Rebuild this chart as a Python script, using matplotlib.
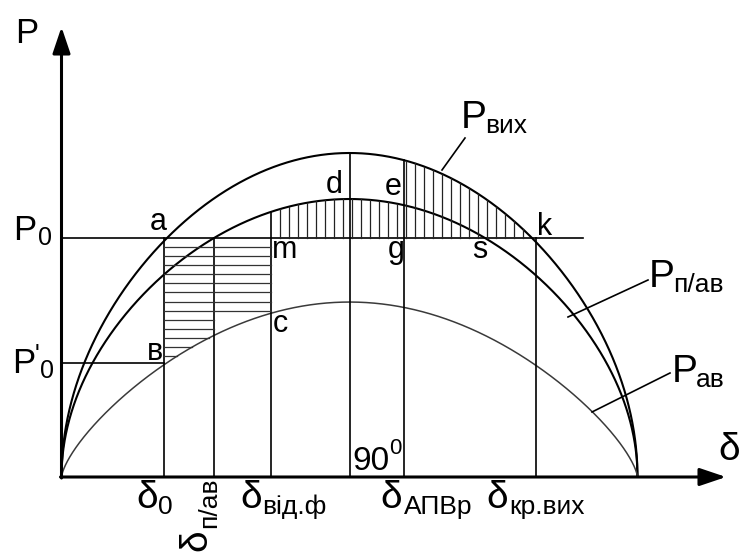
import matplotlib
matplotlib.use('Agg')
import matplotlib.pyplot as plt
import numpy as np

# power-angle characteristics: amplitude (Pвих = 1) and curve shape exponent
curveNames = ['вих', 'п/ав', 'ав']
curveAmp = [1.0, 0.858, 0.54]
curveExp = [0.5, 0.5, 0.7]
curveWidth = [1.5, 1.5, 1.1]
curveColor = ['black', 'black', '#3a3a3a']

# turbine power levels
P0 = 0.738
P0prime = 0.352

# angles on the delta axis, degrees
angleNames = ['0', 'п/ав', 'від.ф', '90', 'АПВр', 'кр.вих']
angles = [32.0, 47.7, 65.5, 90.0, 107.0, 148.3]

plt.rcParams['font.family'] = ['Liberation Sans', 'DejaVu Sans']

W, H = 744, 554
X0, Y0 = 61.5, 477.0
XSCALE, YSCALE = 3.2, 324.0

def px(x, y):
	# pixel position -> data position
	return ((x - X0) / XSCALE, (Y0 - y) / YSCALE)

def curve(i, d):
	return curveAmp[i] * np.sin(np.radians(d)) ** curveExp[i]

def put(ax, s, x, y, size, **kw):
	dx, dy = px(x, y)
	ax.text(dx, dy, s, fontsize=size, ha=kw.pop('ha', 'left'), va=kw.pop('va', 'baseline'), **kw)

fig = plt.figure(figsize=(W / 100, H / 100), dpi=100)
ax = fig.add_axes([0, 0, 1, 1])
ax.set_xlim(px(0, 0)[0], px(W, 0)[0])
ax.set_ylim(px(0, H)[1], px(0, 0)[1])
ax.axis('off')

# curves
d = np.linspace(0, 180, 1441)
for i in range(len(curveAmp)):
	ax.plot(d, curve(i, d), color=curveColor[i], lw=curveWidth[i], solid_capstyle='butt')

# P0 and P'0 levels
ax.plot([0, px(583, 0)[0]], [P0, P0], color='black', lw=1.2)
ax.plot([0, angles[0]], [P0prime, P0prime], color='black', lw=1.2)

# vertical angle lines
tops = [P0, P0, curve(1, angles[2]), curve(0, 90.0), curve(0, angles[4]), P0]
for a, t in zip(angles, tops):
	ax.plot([a, a], [0, t], color='black', lw=1.2)

# deceleration area, vertical hatching
step = 9 / XSCALE
for x in np.arange(angles[2] + step, angles[5], step):
	top = curve(1, x) if x < angles[4] else curve(0, x)
	if top > P0:
		ax.plot([x, x], [P0, top], color='#222222', lw=0.9)

# acceleration area, horizontal hatching
levels = P0 - (9.1 / YSCALE) * np.arange(1, 14)
for lv in levels:
	cross = np.degrees(np.arcsin(min(1.0, (lv / curveAmp[2]) ** (1 / curveExp[2]))))
	if cross > angles[0]:
		ax.plot([angles[0], min(angles[1], cross)], [lv, lv], color='#333333', lw=0.9)
	if cross > angles[2]:
		ax.plot([angles[1], angles[2]], [lv, lv], color='#333333', lw=0.9)

# axes with arrows
arrow = dict(arrowstyle='-|>,head_length=0.8,head_width=0.27', lw=2.2, color='black',
	mutation_scale=20, shrinkA=0, shrinkB=0)
ax.annotate('', xy=px(X0, 27), xytext=px(X0, Y0 + 1), arrowprops=arrow)
ax.annotate('', xy=px(726, Y0), xytext=px(X0 - 1, Y0), arrowprops=arrow)

# axis names
put(ax, 'P', 15, 43, 25)
put(ax, 'δ', 718, 460, 28)
put(ax, 'P', 13, 240, 25)
put(ax, '0', 38, 245, 18)
put(ax, 'P', 12, 373, 25)
put(ax, "'", 35, 362, 18)
put(ax, '0', 40, 378, 18)

# point letters
points = [('a', 150, 230), ('в', 147, 360), ('m', 272, 258), ('c', 273, 332), ('d', 326, 193),
	('e', 385, 195), ('g', 388, 258), ('s', 472, 258), ('k', 537, 235)]
for s, x, y in points:
	put(ax, s, x, y, 22)

# curve labels with leaders
leaders = [((442, 170), (465, 138)), ((568, 317), (648, 280)), ((592, 412), (670, 373))]
labelPos = [(461, 128), (649, 287), (672, 382)]
for i in range(3):
	(x1, y1), (x2, y2) = leaders[i]
	ax.plot(*zip(px(x1, y1), px(x2, y2)), color='black', lw=1.2)
	lx, ly = labelPos[i]
	put(ax, 'P', lx, ly, 28)
	put(ax, curveNames[i], lx + 24, ly + 5, 19)

# delta axis labels
put(ax, 'δ', 136, 508, 28)
put(ax, angleNames[0], 158, 514, 19)
put(ax, 'δ', 196, 540, 28, rotation=90, ha='center', va='center')
put(ax, angleNames[1], 209, 503, 19, rotation=90, ha='center', va='center')
put(ax, 'δ', 240, 508, 28)
put(ax, angleNames[2], 262, 514, 19)
put(ax, angleNames[3], 352, 470, 24)
put(ax, '0', 389, 454, 16)
put(ax, 'δ', 380, 508, 28)
put(ax, angleNames[4], 404, 514, 19)
put(ax, 'δ', 486, 508, 28)
put(ax, angleNames[5], 509, 514, 19)

fig.savefig('out.png', dpi=100)
